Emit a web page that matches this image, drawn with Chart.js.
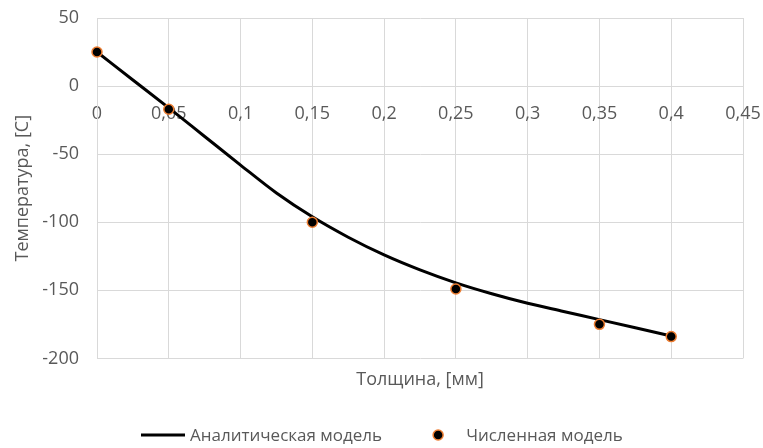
<!DOCTYPE html>
<html lang="ru">
<head>
<meta charset="utf-8">
<title>Температура по толщине</title>
<script src="https://cdn.jsdelivr.net/npm/chart.js@4.4.1/dist/chart.umd.min.js"></script>
<style>
  html, body { margin: 0; padding: 0; background: #ffffff; }
  #wrap { position: relative; width: 763px; height: 448px; }
</style>
</head>
<body>
<div id="wrap"><canvas id="chart" width="763" height="448"></canvas></div>
<script>
// Analytic solution: thickness (mm) and temperature (C)
const analyticX = [0, 0.025, 0.05, 0.075, 0.1, 0.125, 0.15, 0.175, 0.2, 0.225, 0.25, 0.275, 0.3, 0.325, 0.35, 0.375, 0.4];
const analyticT = [25, 4.5, -16, -37, -58, -78.5, -96, -111, -124, -135, -144.5, -152.5, -159.5, -165.5, -171.5, -177.5, -183.5];

// Numerical model nodes
const numericX = [0, 0.05, 0.15, 0.25, 0.35, 0.4];
const numericT = [25, -17, -100, -149, -175, -184];

// Axis tick labels
const xTickLabels = ['0', '0,05', '0,1', '0,15', '0,2', '0,25', '0,3', '0,35', '0,4', '0,45'];
const yTickLabels = ['-200', '-150', '-100', '-50', '0', '50'];

const seriesNames = ['Аналитическая модель', 'Численная модель'];
const xTitle = 'Толщина, [мм]';
const yTitle = 'Температура, [C]';

const TEXT = '#595959';
const GRID = '#d9d9d9';
const ORANGE = '#ED7D31';
const FONT = 'Open Sans';

Chart.defaults.font.family = FONT;
Chart.defaults.color = TEXT;

const toPoints = (xs, ys) => xs.map((x, i) => ({ x: x, y: ys[i] }));

// Plot margins are set by layout.padding alone, so label overhang is not reserved
const noOverhang = (scale) => {
  scale.paddingTop = 0;
  scale.paddingBottom = 0;
  scale.paddingLeft = 0;
  scale.paddingRight = 0;
};

// Legend drawn under the plot: line sample for the analytic curve, marker for the nodes
const bottomLegend = {
  id: 'bottomLegend',
  afterDraw(chart) {
    const ctx = chart.ctx;
    const y = 435;
    const fontSize = 17;
    ctx.save();
    ctx.font = fontSize + 'px "' + FONT + '"';
    ctx.textBaseline = 'middle';
    ctx.textAlign = 'left';
    const sample = 44, gapSample = 5, gapItems = 56, gapMarker = 28;
    const w1 = ctx.measureText(seriesNames[0]).width;
    const w2 = ctx.measureText(seriesNames[1]).width;
    const total = sample + gapSample + w1 + gapItems + gapMarker + w2;
    let x = Math.round(chart.width / 2 - total / 2);

    ctx.strokeStyle = '#000000';
    ctx.lineWidth = 3;
    ctx.beginPath();
    ctx.moveTo(x, y);
    ctx.lineTo(x + sample, y);
    ctx.stroke();
    x += sample + gapSample;
    ctx.fillStyle = TEXT;
    ctx.fillText(seriesNames[0], x, y + 1);
    x += w1 + gapItems;

    ctx.beginPath();
    ctx.arc(x, y, 5, 0, Math.PI * 2);
    ctx.fillStyle = '#000000';
    ctx.fill();
    ctx.lineWidth = 1.5;
    ctx.strokeStyle = ORANGE;
    ctx.stroke();
    x += gapMarker;
    ctx.fillStyle = TEXT;
    ctx.fillText(seriesNames[1], x, y + 1);
    ctx.restore();
  }
};

new Chart(document.getElementById('chart'), {
  type: 'scatter',
  data: {
    datasets: [
      {
        label: seriesNames[1],
        data: toPoints(numericX, numericT),
        showLine: false,
        pointRadius: 5,
        pointHoverRadius: 5,
        pointBackgroundColor: '#000000',
        pointBorderColor: ORANGE,
        pointBorderWidth: 1.5,
        clip: false,
        order: 0
      },
      {
        label: seriesNames[0],
        data: toPoints(analyticX, analyticT),
        showLine: true,
        borderColor: '#000000',
        borderWidth: 3,
        cubicInterpolationMode: 'monotone',
        pointRadius: 0,
        pointHoverRadius: 0,
        clip: false,
        order: 1
      }
    ]
  },
  options: {
    responsive: false,
    animation: false,
    events: [],
    layout: { padding: { left: 0, top: 18, right: 20, bottom: 57 } },
    plugins: {
      legend: { display: false },
      tooltip: { enabled: false }
    },
    scales: {
      x: {
        type: 'linear',
        position: 'bottom',
        min: 0,
        max: 0.45,
        grid: { display: false },
        border: { display: false },
        ticks: { display: false, stepSize: 0.05 },
        title: {
          display: true,
          text: xTitle,
          color: TEXT,
          font: { size: 18 },
          padding: { top: 3, bottom: 0 }
        },
        afterFit: noOverhang
      },
      xt: {
        type: 'linear',
        position: { y: 0 },
        min: 0,
        max: 0.45,
        grid: { color: GRID, lineWidth: 1, drawTicks: false },
        border: { color: GRID, width: 1 },
        ticks: {
          stepSize: 0.05,
          padding: 17,
          color: TEXT,
          font: { size: 18 },
          maxRotation: 0,
          autoSkip: false,
          callback: (v, i) => xTickLabels[i]
        },
        afterFit: noOverhang
      },
      y: {
        type: 'linear',
        position: 'left',
        min: -200,
        max: 50,
        grid: { color: GRID, lineWidth: 1, drawTicks: false },
        border: { color: GRID, width: 1 },
        ticks: {
          stepSize: 50,
          padding: 18,
          color: TEXT,
          font: { size: 18 },
          callback: (v, i) => yTickLabels[i]
        },
        title: {
          display: true,
          text: yTitle,
          color: TEXT,
          font: { size: 18 },
          padding: { top: 12, bottom: 0 }
        },
        afterFit(scale) {
          noOverhang(scale);
          scale.width = 97;
        }
      }
    }
  },
  plugins: [bottomLegend]
});
</script>
</body>
</html>
